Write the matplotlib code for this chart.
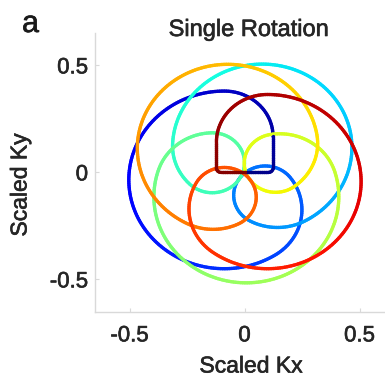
import numpy as np
import matplotlib
matplotlib.use('Agg')
import matplotlib.pyplot as plt
import matplotlib.patheffects as pe
from matplotlib.patches import Arc

# large loops of the trajectory, in acquisition order (centre x, centre y, radius)
big_cx = [-0.088, 0.077, 0.008, -0.073, 0.100]
big_cy = [-0.035, 0.116, -0.114, 0.112, -0.043]
big_r = [0.415, 0.390, 0.402, 0.393, 0.407]

# small circles through k=0 that join one loop to the next
small_cx = [0.090, -0.140, 0.135, -0.088]
small_cy = [-0.107, 0.045, 0.043, -0.116]
small_r = [0.137, 0.140, 0.136, 0.139]

# radius of the bend between a loop and a small circle
blend_r = 0.25

# lead-in / lead-out legs
lead_x_in = 0.124
lead_x_out = -0.122
corner_r = 0.02

xticks = [-0.5, 0, 0.5]
yticks = [-0.5, 0, 0.5]
tick_labels = ['-0.5', '0', '0.5']


def ang(v):
    return np.degrees(np.arctan2(v[1], v[0]))


def ccw(a, b):
    return (b - a) % 360


def blend(cb, rb, cs, rs, into_small):
    # circle of radius blend_r inside the loop that holds the small circle
    cb = np.array(cb)
    cs = np.array(cs)
    d = cs - cb
    dist = np.hypot(*d)
    a = rb - blend_r
    b = blend_r - rs
    x = (a ** 2 - b ** 2 + dist ** 2) / (2 * dist)
    h = np.sqrt(max(a ** 2 - x ** 2, 0))
    ex = d / dist
    ey = np.array([-ex[1], ex[0]])
    for cf in (cb + x * ex + h * ey, cb + x * ex - h * ey):
        u = ang(cf - cb)
        w = ang(cs - cf)
        sw = ccw(u, w) if into_small else ccw(w, u)
        if sw < 180:
            return cf, u, w, sw


pieces = []

# lead-in: along +kx, up, then over into the first loop
yk = big_cy[0] + big_r[0] - (lead_x_in - big_cx[0])
pieces.append(('line', 0, 0, lead_x_in - corner_r, 0))
pieces.append(('arc', lead_x_in - corner_r, corner_r, corner_r, -90, 90))
pieces.append(('line', lead_x_in, corner_r, lead_x_in, yk))
pieces.append(('arc', big_cx[0], yk, lead_x_in - big_cx[0], 0, 90))

cur = 90.0
for i in range(5):
    if i < 4:
        cf, u, w, sw = blend((big_cx[i], big_cy[i]), big_r[i],
                             (small_cx[i], small_cy[i]), small_r[i], True)
        pieces.append(('arc', big_cx[i], big_cy[i], big_r[i], cur, ccw(cur, u)))
        pieces.append(('arc', cf[0], cf[1], blend_r, u, sw))
        cf2, u2, w2, sw2 = blend((big_cx[i + 1], big_cy[i + 1]), big_r[i + 1],
                                 (small_cx[i], small_cy[i]), small_r[i], False)
        pieces.append(('arc', small_cx[i], small_cy[i], small_r[i], w, ccw(w, w2)))
        pieces.append(('arc', cf2[0], cf2[1], blend_r, w2, sw2))
        cur = u2
    else:
        pieces.append(('arc', big_cx[i], big_cy[i], big_r[i], cur, ccw(cur, 90)))

# lead-out: down the left leg and back to the centre
rt = big_cx[4] - lead_x_out
yk2 = big_cy[4] + big_r[4] - rt
pieces.append(('arc', big_cx[4], yk2, rt, 90, 90))
pieces.append(('line', lead_x_out, yk2, lead_x_out, corner_r))
pieces.append(('arc', lead_x_out + corner_r, corner_r, corner_r, 180, 90))
pieces.append(('line', lead_x_out + corner_r, 0, 0, 0))


def length(p):
    if p[0] == 'arc':
        return p[3] * np.radians(p[5])
    return np.hypot(p[3] - p[1], p[4] - p[2])


total = sum(length(p) for p in pieces)
cmap = plt.get_cmap('jet')

plt.rcParams['font.family'] = ['Liberation Sans', 'DejaVu Sans']
fig = plt.figure(figsize=(3.85, 3.78), dpi=100)
ax = fig.add_axes([95 / 385, 1 - 311.5 / 378, 299 / 385, 278.2 / 378])

lw = 2.4
s = 0.0
for p in pieces:
    L = length(p)
    n = max(1, int(np.ceil(L / 0.01)))
    for k in range(n):
        c = cmap(((s + (k + 0.5) * L / n) / total) ** 0.9)
        if p[0] == 'arc':
            _, cx, cy, r, a0, sw = p
            ax.add_patch(Arc((cx, cy), 2 * r, 2 * r,
                             theta1=a0 + k * sw / n, theta2=a0 + (k + 1) * sw / n,
                             color=c, lw=lw, capstyle='round'))
        else:
            _, x0, y0, x1, y1 = p
            ax.plot([x0 + (x1 - x0) * k / n, x0 + (x1 - x0) * (k + 1) / n],
                    [y0 + (y1 - y0) * k / n, y0 + (y1 - y0) * (k + 1) / n],
                    color=c, lw=lw, solid_capstyle='round')
    s += L

ax.set_xlim(-0.65, 0.65)
ax.set_ylim(-0.65, 0.65)
ax.set_xticks(xticks)
ax.set_xticklabels(tick_labels)
ax.set_yticks(yticks)
ax.set_yticklabels(tick_labels)
for side in ['top', 'right']:
    ax.spines[side].set_visible(False)
for side in ['left', 'bottom']:
    ax.spines[side].set_color('0.85')
    ax.spines[side].set_linewidth(1.0)
ax.tick_params(direction='in', length=3, color='0.85', labelcolor='0.15', labelsize=16)
ax.tick_params(axis='x', pad=10)
ax.tick_params(axis='y', pad=5)

heavy = [pe.withStroke(linewidth=0.45, foreground='0.15')]
for t in ax.get_xticklabels() + ax.get_yticklabels():
    t.set_path_effects(heavy)

fig.text(249 / 385, 1 - 30 / 378, 'Single Rotation', ha='center', va='center',
         fontsize=17, color='0.15', path_effects=heavy)
fig.text(251 / 385, 1 - 366 / 378, 'Scaled Kx', ha='center', va='center',
         fontsize=16.5, color='0.15', path_effects=heavy)
fig.text(20 / 385, 1 - 185 / 378, 'Scaled Ky', ha='center', va='center',
         rotation=90, fontsize=16.5, color='0.15', path_effects=heavy)
fig.text(22 / 385, 1 - 32 / 378, 'a', ha='left', va='baseline', fontsize=22,
         color='0.1', path_effects=[pe.withStroke(linewidth=0.45, foreground='0.1')])

fig.savefig('out.png', dpi=100)
